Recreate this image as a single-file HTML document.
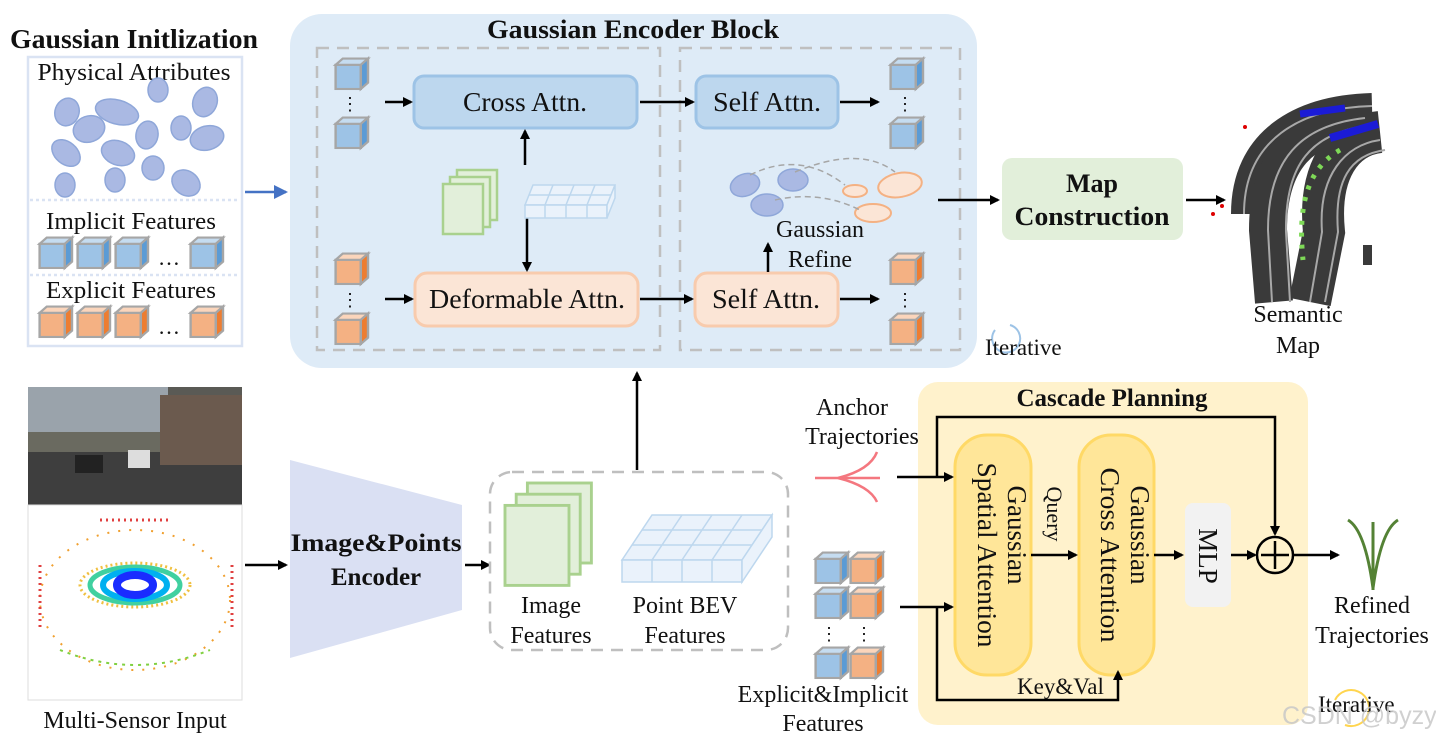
<!DOCTYPE html>
<html><head><meta charset="utf-8"><style>
html,body{margin:0;padding:0;background:#fff}
svg{display:block}
text{font-family:"Liberation Serif",serif;fill:#111}
.b{font-weight:bold}
</style></head><body>
<svg width="1436" height="739" viewBox="0 0 1436 739" xmlns="http://www.w3.org/2000/svg">
<defs>
<marker id="ar" markerWidth="10" markerHeight="10" refX="8" refY="5" orient="auto" markerUnits="userSpaceOnUse"><path d="M0,0 L10,5 L0,10 z" fill="#000"/></marker>
<marker id="arb" markerWidth="14" markerHeight="14" refX="12" refY="7" orient="auto" markerUnits="userSpaceOnUse"><path d="M0,0 L14,7 L0,14 z" fill="#4472c4"/></marker>
<g id="cb0"><rect x="0.5" y="6.5" width="21" height="23" fill="#9dc3e6" stroke="#a6a6a6" stroke-width="2"/><polygon points="0.5,6.5 6.5,0.5 27.5,0.5 21.5,6.5" fill="#c5dcf0" stroke="#a6a6a6" stroke-width="2"/><polygon points="21.5,6.5 27.5,0.5 27.5,23.5 21.5,29.5" fill="#5b9bd5" stroke="#a6a6a6" stroke-width="2"/></g>
<g id="co0"><rect x="0.5" y="6.5" width="21" height="23" fill="#f4b183" stroke="#a6a6a6" stroke-width="2"/><polygon points="0.5,6.5 6.5,0.5 27.5,0.5 21.5,6.5" fill="#fbd5bb" stroke="#a6a6a6" stroke-width="2"/><polygon points="21.5,6.5 27.5,0.5 27.5,23.5 21.5,29.5" fill="#ed7d31" stroke="#a6a6a6" stroke-width="2"/></g>
<g id="cb"><use href="#cb0" transform="scale(1.2 1.05)"/></g>
<g id="co"><use href="#co0" transform="scale(1.2 1.05)"/></g>
<g id="gs"><rect x="14" y="0" width="40" height="50" fill="#e2efda" stroke="#a9d18e" stroke-width="2.5"/><rect x="7" y="7" width="40" height="50" fill="#e2efda" stroke="#a9d18e" stroke-width="2.5"/><rect x="0" y="14" width="40" height="50" fill="#e2efda" stroke="#a9d18e" stroke-width="2.5"/></g>
</defs>

<!-- Gaussian Initialization -->
<text x="10" y="48" font-size="27" class="b" textLength="248" lengthAdjust="spacingAndGlyphs">Gaussian Initlization</text>
<rect x="28" y="57" width="214" height="289" fill="#fff" stroke="#dae3f3" stroke-width="2.5"/>
<line x1="30" y1="200" x2="240" y2="200" stroke="#dae3f3" stroke-width="2.5" stroke-dasharray="3,3"/>
<line x1="30" y1="275" x2="240" y2="275" stroke="#dae3f3" stroke-width="2.5" stroke-dasharray="3,3"/>
<text x="134" y="80" font-size="24" text-anchor="middle" textLength="193" lengthAdjust="spacingAndGlyphs">Physical Attributes</text>
<g fill="#aab9e3" stroke="#8fa7d9" stroke-width="1.5">
<ellipse cx="67" cy="112" rx="12" ry="14" transform="rotate(20 67 112)"/>
<ellipse cx="117" cy="112" rx="22" ry="12" transform="rotate(15 117 112)"/>
<ellipse cx="89" cy="129" rx="16" ry="13" transform="rotate(-20 89 129)"/>
<ellipse cx="158" cy="90" rx="10" ry="12"/>
<ellipse cx="205" cy="102" rx="12" ry="15" transform="rotate(20 205 102)"/>
<ellipse cx="147" cy="135" rx="11" ry="14" transform="rotate(10 147 135)"/>
<ellipse cx="181" cy="128" rx="10" ry="12"/>
<ellipse cx="207" cy="138" rx="17" ry="12" transform="rotate(-15 207 138)"/>
<ellipse cx="66" cy="153" rx="16" ry="11" transform="rotate(40 66 153)"/>
<ellipse cx="118" cy="153" rx="17" ry="12" transform="rotate(20 118 153)"/>
<ellipse cx="153" cy="168" rx="11" ry="12"/>
<ellipse cx="65" cy="185" rx="10" ry="12"/>
<ellipse cx="115" cy="180" rx="10" ry="12"/>
<ellipse cx="186" cy="183" rx="15" ry="12" transform="rotate(35 186 183)"/>
</g>
<text x="131" y="229" font-size="24" text-anchor="middle" textLength="170" lengthAdjust="spacingAndGlyphs">Implicit Features</text>
<use href="#cb" x="39" y="237"/><use href="#cb" x="77" y="237"/><use href="#cb" x="115" y="237"/><text x="158" y="265" font-size="22">…</text><use href="#cb" x="190" y="237"/>
<text x="131" y="298" font-size="24" text-anchor="middle" textLength="170" lengthAdjust="spacingAndGlyphs">Explicit Features</text>
<use href="#co" x="39" y="306"/><use href="#co" x="77" y="306"/><use href="#co" x="115" y="306"/><text x="158" y="334" font-size="22">…</text><use href="#co" x="190" y="306"/>
<line x1="245" y1="192" x2="286" y2="192" stroke="#4472c4" stroke-width="2.5" marker-end="url(#arb)"/>

<!-- Encoder block -->
<rect x="290" y="14" width="687" height="354" rx="32" fill="#deebf7"/>
<text x="633" y="38" font-size="26" class="b" text-anchor="middle" textLength="292" lengthAdjust="spacingAndGlyphs">Gaussian Encoder Block</text>
<rect x="317" y="48" width="343" height="302" fill="none" stroke="#bfbfbf" stroke-width="2.5" stroke-dasharray="12,8"/>
<rect x="680" y="48" width="280" height="302" fill="none" stroke="#bfbfbf" stroke-width="2.5" stroke-dasharray="12,8"/>
<use href="#cb" x="335" y="58"/><text x="350" y="110" font-size="18" text-anchor="middle">⋮</text><use href="#cb" x="335" y="117"/>
<use href="#co" x="335" y="253"/><text x="350" y="306" font-size="18" text-anchor="middle">⋮</text><use href="#co" x="335" y="313"/>
<rect x="414" y="76" width="223" height="52" rx="10" fill="#bdd7ee" stroke="#9dc3e6" stroke-width="3"/>
<text x="525" y="111" font-size="27" text-anchor="middle" textLength="124" lengthAdjust="spacingAndGlyphs">Cross Attn.</text>
<rect x="696" y="76" width="142" height="52" rx="10" fill="#bdd7ee" stroke="#9dc3e6" stroke-width="3"/>
<text x="767" y="111" font-size="27" text-anchor="middle" textLength="108" lengthAdjust="spacingAndGlyphs">Self Attn.</text>
<rect x="415" y="273" width="223" height="53" rx="12" fill="#fbe5d6" stroke="#f8cbad" stroke-width="3"/>
<text x="527" y="308" font-size="27" text-anchor="middle" textLength="196" lengthAdjust="spacingAndGlyphs">Deformable Attn.</text>
<rect x="695" y="273" width="143" height="53" rx="12" fill="#fbe5d6" stroke="#f8cbad" stroke-width="3"/>
<text x="766" y="308" font-size="27" text-anchor="middle" textLength="108" lengthAdjust="spacingAndGlyphs">Self Attn.</text>
<g stroke="#000" stroke-width="2.5" marker-end="url(#ar)">
<line x1="385" y1="102" x2="411" y2="102"/><line x1="640" y1="102" x2="693" y2="102"/><line x1="840" y1="102" x2="878" y2="102"/>
<line x1="385" y1="299" x2="412" y2="299"/><line x1="640" y1="299" x2="692" y2="299"/><line x1="840" y1="299" x2="878" y2="299"/>
<line x1="525" y1="165" x2="525" y2="131"/><line x1="527" y1="206" x2="527" y2="270"/>
<line x1="768" y1="272" x2="768" y2="244"/>
<line x1="938" y1="200" x2="998" y2="200"/><line x1="1186" y1="200" x2="1224" y2="200"/>
<line x1="637" y1="470" x2="637" y2="373"/>
<line x1="245" y1="565" x2="286" y2="565"/><line x1="465" y1="565" x2="489" y2="565"/>
</g>
<use href="#cb" x="890" y="58"/><text x="905" y="110" font-size="18" text-anchor="middle">⋮</text><use href="#cb" x="890" y="117"/>
<use href="#co" x="890" y="253"/><text x="905" y="306" font-size="18" text-anchor="middle">⋮</text><use href="#co" x="890" y="313"/>
<use href="#gs" x="443" y="170"/>
<g stroke="#bdd7ee" stroke-width="1.5" fill="#eaf2fb">
<polygon points="525,205 533,185 615,185 607,205"/><polygon points="525,205 607,205 607,218 525,218"/><polygon points="607,205 615,185 615,198 607,218"/>
<path d="M545,205 L553,185 M566,205 L574,185 M587,205 L595,185 M529,195 L611,195 M545,205 V218 M566,205 V218 M587,205 V218" fill="none"/>
</g>
<g fill="#aab9e3" stroke="#8fa7d9" stroke-width="1.5">
<ellipse cx="745" cy="185" rx="15" ry="11" transform="rotate(-20 745 185)"/>
<ellipse cx="793" cy="180" rx="15" ry="11"/>
<ellipse cx="767" cy="205" rx="16" ry="11"/>
</g>
<g fill="#fbe5d6" stroke="#f4b183" stroke-width="2">
<ellipse cx="900" cy="185" rx="22" ry="12" transform="rotate(-10 900 185)"/>
<ellipse cx="855" cy="191" rx="12" ry="6"/>
<ellipse cx="873" cy="213" rx="18" ry="9"/>
</g>
<g fill="none" stroke="#a6a6a6" stroke-width="1.5" stroke-dasharray="6,4">
<path d="M750,175 Q800,150 845,185"/><path d="M795,172 Q860,145 895,172"/><path d="M775,200 Q820,190 860,210"/>
</g>
<text x="820" y="237" font-size="24" text-anchor="middle">Gaussian</text>
<text x="820" y="267" font-size="24" text-anchor="middle">Refine</text>

<!-- Map construction -->
<rect x="1002" y="158" width="181" height="82" rx="10" fill="#e2efda"/>
<text x="1092" y="192" font-size="26" class="b" text-anchor="middle">Map</text>
<text x="1092" y="225" font-size="26" class="b" text-anchor="middle" textLength="155" lengthAdjust="spacingAndGlyphs">Construction</text>
<g fill="none" stroke-linecap="butt">
<path d="M1372,106 C1300,108 1244,140 1244,214" stroke="#3a3a3a" stroke-width="26"/>
<path d="M1365,118 C1300,125 1268,160 1268,230 L1274,302" stroke="#3a3a3a" stroke-width="38"/>
<path d="M1380,132 C1342,136 1318,172 1324,232 L1310,302" stroke="#3a3a3a" stroke-width="42"/>
<path d="M1372,106 C1300,108 1244,140 1244,214" stroke="#a8a8a8" stroke-width="2"/>
<path d="M1365,118 C1300,125 1268,160 1268,230 L1272,302" stroke="#a8a8a8" stroke-width="2"/>
<path d="M1372,125 C1310,132 1285,165 1286,232 L1290,302" stroke="#a8a8a8" stroke-width="2"/>
<path d="M1380,140 C1345,145 1318,175 1322,232 L1310,302" stroke="#a8a8a8" stroke-width="2"/>
<path d="M1385,150 C1350,155 1334,180 1338,232 L1325,302" stroke="#a8a8a8" stroke-width="2"/>
<path d="M1340,150 C1305,170 1298,210 1303,260" stroke="#7ed957" stroke-width="5" stroke-dasharray="4,8"/>
<path d="M1300,114 L1345,108" stroke="#1b1bd6" stroke-width="7"/><path d="M1330,138 L1378,124" stroke="#1b1bd6" stroke-width="8"/>
</g>
<rect x="1363" y="245" width="9" height="20" fill="#3a3a3a"/>
<circle cx="1245" cy="127" r="2" fill="#d00"/><circle cx="1222" cy="206" r="2" fill="#d00"/><circle cx="1213" cy="214" r="2" fill="#d00"/>
<text x="1298" y="322" font-size="24" text-anchor="middle">Semantic</text>
<text x="1298" y="353" font-size="24" text-anchor="middle">Map</text>
<path d="M995,330 A14,14 0 1 0 1010,325" fill="none" stroke="#9dc3e6" stroke-width="2"/>
<text x="985" y="355" font-size="23">Iterative</text>

<!-- Sensors -->
<rect x="28" y="387" width="214" height="118" fill="#5a5a55"/>
<rect x="28" y="387" width="140" height="45" fill="#9aa3ab"/>
<rect x="28" y="432" width="214" height="20" fill="#6a6a60"/>
<rect x="28" y="452" width="214" height="53" fill="#3e3e3e"/>
<rect x="160" y="395" width="82" height="70" fill="#6b5a4e"/>
<rect x="75" y="455" width="28" height="18" fill="#222"/><rect x="128" y="450" width="22" height="18" fill="#ddd"/>
<rect x="28" y="505" width="214" height="195" fill="#fff" stroke="#ddd"/>
<g fill="none">
<ellipse cx="135" cy="585" rx="55" ry="22" stroke="#f0c040" stroke-width="3" stroke-dasharray="2,3"/>
<ellipse cx="135" cy="585" rx="45" ry="18" stroke="#40d0a0" stroke-width="5"/>
<ellipse cx="135" cy="585" rx="32" ry="14" stroke="#00b0f0" stroke-width="6"/>
<ellipse cx="135" cy="585" rx="18" ry="10" stroke="#1a2cff" stroke-width="8"/>
<ellipse cx="135" cy="600" rx="95" ry="70" stroke="#f0a030" stroke-width="2" stroke-dasharray="2,9"/>
<path d="M40,565 L40,630 M232,565 L232,630 M100,520 L170,520" stroke="#e04040" stroke-width="3" stroke-dasharray="2,4"/>
<path d="M60,650 Q135,680 210,650" stroke="#80d040" stroke-width="2" stroke-dasharray="3,5"/>
</g>
<text x="135" y="728" font-size="24" text-anchor="middle">Multi-Sensor Input</text>
<polygon points="290,460 462,505 462,610 290,658" fill="#dae0f3"/>
<text x="376" y="551" font-size="25" class="b" text-anchor="middle" textLength="171" lengthAdjust="spacingAndGlyphs">Image&amp;Points</text>
<text x="376" y="585" font-size="25" class="b" text-anchor="middle">Encoder</text>
<rect x="490" y="472" width="298" height="178" rx="22" fill="none" stroke="#bfbfbf" stroke-width="2.5" stroke-dasharray="12,8"/>
<g transform="translate(505 483) scale(1.6 1.6)"><rect x="14" y="0" width="40" height="50" fill="#e2efda" stroke="#a9d18e" stroke-width="1.8"/><rect x="7" y="7" width="40" height="50" fill="#e2efda" stroke="#a9d18e" stroke-width="1.8"/><rect x="0" y="14" width="40" height="50" fill="#e2efda" stroke="#a9d18e" stroke-width="1.8"/></g>
<g stroke="#bdd7ee" stroke-width="1.5" fill="#eaf2fb">
<polygon points="622,560 652,515 772,515 742,560"/><polygon points="622,560 742,560 742,582 622,582"/><polygon points="742,560 772,515 772,537 742,582"/>
<path d="M652,560 L682,515 M682,560 L712,515 M712,560 L742,515 M632,545 L752,545 M642,530 L762,530 M652,560 V582 M682,560 V582 M712,560 V582" fill="none"/>
</g>
<text x="551" y="613" font-size="24" text-anchor="middle">Image</text>
<text x="551" y="643" font-size="24" text-anchor="middle">Features</text>
<text x="685" y="613" font-size="24" text-anchor="middle">Point BEV</text>
<text x="685" y="643" font-size="24" text-anchor="middle">Features</text>

<!-- Cascade Planning -->
<text x="852" y="415" font-size="24" text-anchor="middle">Anchor</text>
<text x="862" y="444" font-size="24" text-anchor="middle">Trajectories</text>
<g fill="none" stroke="#f4777f" stroke-width="2.5"><path d="M815,478 L880,478"/><path d="M838,478 Q870,470 877,452"/><path d="M838,478 Q870,486 877,502"/></g>
<use href="#cb" x="815" y="552"/><use href="#co" x="850" y="552"/>
<use href="#cb" x="815" y="587"/><use href="#co" x="850" y="587"/>
<text x="829" y="640" font-size="18" text-anchor="middle">⋮</text><text x="864" y="640" font-size="18" text-anchor="middle">⋮</text>
<use href="#cb" x="815" y="647"/><use href="#co" x="850" y="647"/>
<text x="823" y="702" font-size="24" text-anchor="middle">Explicit&amp;Implicit</text>
<text x="823" y="731" font-size="24" text-anchor="middle">Features</text>
<rect x="918" y="382" width="390" height="343" rx="20" fill="#fff2cc"/>
<text x="1112" y="406" font-size="25" class="b" text-anchor="middle">Cascade Planning</text>
<rect x="955" y="435" width="76" height="240" rx="32" fill="#ffe699" stroke="#ffd966" stroke-width="3"/>
<rect x="1079" y="435" width="75" height="240" rx="32" fill="#ffe699" stroke="#ffd966" stroke-width="3"/>
<rect x="1185" y="503" width="46" height="104" rx="8" fill="#f2f2f2"/>
<text transform="translate(1008 535) rotate(90)" font-size="27" text-anchor="middle">Gaussian</text>
<text transform="translate(978 555) rotate(90)" font-size="27" text-anchor="middle" textLength="185" lengthAdjust="spacingAndGlyphs">Spatial Attention</text>
<text transform="translate(1131 535) rotate(90)" font-size="27" text-anchor="middle">Gaussian</text>
<text transform="translate(1101 555) rotate(90)" font-size="27" text-anchor="middle" textLength="175" lengthAdjust="spacingAndGlyphs">Cross Attention</text>
<text transform="translate(1047 514) rotate(90)" font-size="22" text-anchor="middle">Query</text>
<text transform="translate(1199 556) rotate(90)" font-size="27" text-anchor="middle">MLP</text>
<g fill="none" stroke="#000" stroke-width="2.5">
<path d="M937,477 V417 H1275 V534" marker-end="url(#ar)"/>
<path d="M897,477 H952" marker-end="url(#ar)"/>
<path d="M900,607 H952" marker-end="url(#ar)"/>
<path d="M937,607 V700 H1118 V672" marker-end="url(#ar)"/>
<path d="M1031,555 H1076" marker-end="url(#ar)"/>
<path d="M1154,555 H1182" marker-end="url(#ar)"/>
<path d="M1231,555 H1255" marker-end="url(#ar)"/>
<path d="M1294,555 H1338" marker-end="url(#ar)"/>
<circle cx="1275" cy="555" r="18"/>
<path d="M1275,541 V569 M1261,555 H1289"/>
</g>
<text x="1017" y="694" font-size="23">Key&amp;Val</text>
<g fill="none" stroke="#548235" stroke-width="3"><path d="M1373,590 V522"/><path d="M1373,588 Q1365,530 1348,520"/><path d="M1373,588 Q1381,530 1398,520"/></g>
<text x="1372" y="613" font-size="24" text-anchor="middle">Refined</text>
<text x="1372" y="643" font-size="24" text-anchor="middle">Trajectories</text>
<path d="M1335,700 A18,18 0 1 1 1345,725" fill="none" stroke="#ffd54f" stroke-width="2"/>
<text x="1318" y="712" font-size="23">Iterative</text>
<text x="1282" y="724" font-size="25" style="fill:#c8c8c8;font-family:'Liberation Sans',sans-serif;opacity:0.85">CSDN @byzy</text>
</svg>
</body></html>
